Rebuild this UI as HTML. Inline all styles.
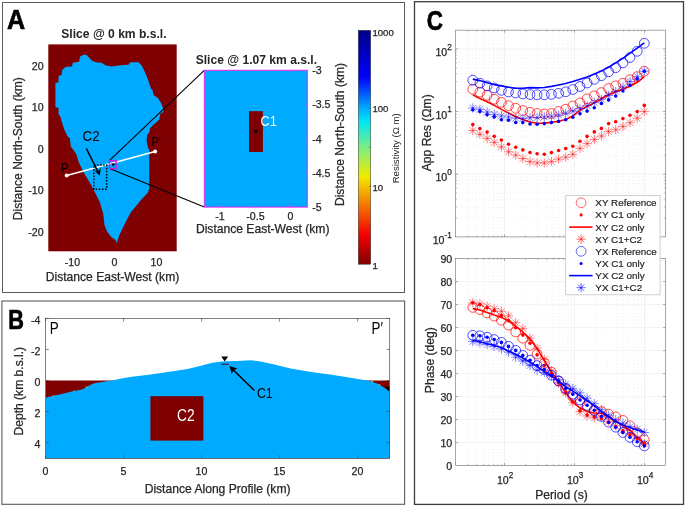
<!DOCTYPE html>
<html lang="en"><head><meta charset="utf-8"><title>Figure</title>
<style>
html,body{margin:0;padding:0;background:#fff;}
body{width:685px;height:506px;overflow:hidden;}
svg{display:block;}
text{font-family:"Liberation Sans",sans-serif;fill:#262626;}
.t{font-size:10.6px;stroke:#262626;stroke-width:0.25px;}
.l{font-size:12.1px;stroke:#262626;stroke-width:0.25px;}
.b{font-weight:bold;font-size:12.1px;}
.p{font-weight:bold;fill:#000;font-size:26.5px;stroke:#000;stroke-width:0.7px;stroke-linejoin:round;}
.an{fill:#000;font-size:15px;}
.w{fill:#fff;font-size:14.5px;}
.lg{font-size:9.9px;stroke:#262626;stroke-width:0.2px;}
.e{font-size:8.2px;}
</style></head><body>
<svg width="685" height="506" viewBox="0 0 685 506">
<rect width="685" height="506" fill="#fff"/>

<rect x="2.5" y="2.5" width="402" height="290" fill="none" stroke="#5a5a5a" stroke-width="1"/>
<rect x="1.9" y="301" width="402.7" height="203.3" fill="none" stroke="#5a5a5a" stroke-width="1.1"/>
<rect x="414.5" y="1.7" width="269" height="502.7" fill="none" stroke="#3c3c3c" stroke-width="1.3"/>
<text class="p" style="font-size:27.6px" x="6.9" y="29.3" textLength="18.2" lengthAdjust="spacingAndGlyphs">A</text>
<text class="p" style="font-size:27.8px" x="8.3" y="328.7" textLength="15.7" lengthAdjust="spacingAndGlyphs">B</text>
<text class="p" style="font-size:28.3px" x="426.8" y="29.5" textLength="16.2" lengthAdjust="spacingAndGlyphs">C</text>
<rect x="48.3" y="44.4" width="128.4" height="206.9" fill="#7f0000"/>
<polygon fill="#00aaff" points="84.2,54.5 87.3,55.5 91.4,60.3 95.5,62.3 101.7,62.7 105.8,65.4 112,66.4 118.1,65.4 128.4,64.8 130.5,62.3 138.7,62.3 141.8,65.8 144.9,72 147.9,79.2 151,88.4 152.5,90 153.7,95.3 157.8,97.7 161,103 162.9,107.8 163.5,111.9 160.2,113.7 159.4,119.6 156.1,122.6 153.1,125 149.9,128.5 149.5,132.1 147.2,135 146.6,141 147.8,146.9 149.3,150 149.3,188 148,192.5 141.2,199.8 136.5,205.5 130.7,212.5 127,219.5 124.3,225 119.3,235.3 117.5,241 116.6,243.5 116.2,241 114.9,239.6 111,236.8 107,231.5 104.5,225 103.2,213.5 99.6,201.5 91.4,185.5 84.2,173.2 79.1,162.9 76,153.6 70.8,146.4 69.8,138.2 67.8,136.7 64.7,130.6 62.6,124.4 60.6,117.2 58.5,114.1 58.5,108 55.4,106.9 55.4,82.9 58.5,82.3 58.5,76.1 61.6,75.1 62.2,69.9 65.7,66.8 71.9,66.4 72.9,62.7 79.1,61.7 80.1,56.6"/>
<text class="b" x="61.3" y="38.2">Slice @ 0 km b.s.l.</text>
<text class="t" x="43.6" y="69.8" text-anchor="end">20</text>
<text class="t" x="43.6" y="111.3" text-anchor="end">10</text>
<text class="t" x="43.6" y="152.79999999999998" text-anchor="end">0</text>
<text class="t" x="43.6" y="194.29999999999998" text-anchor="end">-10</text>
<text class="t" x="43.6" y="235.79999999999998" text-anchor="end">-20</text>
<text class="t" x="72.4" y="266.4" text-anchor="middle">-10</text>
<text class="t" x="114.5" y="266.4" text-anchor="middle">0</text>
<text class="t" x="156.5" y="266.4" text-anchor="middle">10</text>
<text class="l" x="112.5" y="280.8" text-anchor="middle">Distance East-West (km)</text>
<text class="l" transform="translate(21.5,148.7) rotate(-90)" text-anchor="middle">Distance North-South (km)</text>
<path d="M109.6 160.4 L204.3 70.3 M110.2 168.8 L204.3 207.1" stroke="#000" stroke-width="1.1" fill="none"/>
<path d="M66.7 175.6 L155.1 151.6" stroke="#fff" stroke-width="1.6"/>
<circle cx="66.7" cy="175.6" r="2" fill="#fff"/><circle cx="155.1" cy="151.6" r="2" fill="#fff"/>
<rect x="93.9" y="165" width="12.8" height="24.2" fill="none" stroke="#000" stroke-width="1.5" stroke-dasharray="1.5 1.6"/>
<rect x="109.5" y="160.7" width="6.6" height="7.9" fill="none" stroke="#e010e0" stroke-width="1.4"/>
<path d="M111.2 163.6 h4 l-2 3.2z" fill="#000"/>
<path d="M86.3 148.3 L98 171.8" stroke="#000" stroke-width="1.5" fill="none"/>
<path d="M99.8 175.8 L94.3 170.4 L98 171.4 L100.8 167.6z" fill="#000"/>
<text class="an" style="font-size:14.8px" transform="translate(82.6,140.9) scale(0.9,1)">C2</text>
<text class="an" style="font-size:13.3px" transform="translate(61.3,171.6) scale(0.8,1)">P</text>
<text class="an" style="font-size:13.3px" transform="translate(151.5,145.8) scale(0.8,1)">P′</text>
<rect x="204.3" y="70.3" width="103" height="136.8" fill="#00aaff" stroke="#f020f0" stroke-width="1"/>
<path d="M219.9 70.3v2M255.4 70.3v2M290.5 70.3v2M219.9 207.1v-2M255.4 207.1v-2M290.5 207.1v-2M204.3 104.6h2M204.3 138.8h2M204.3 173h2M307.3 104.6h-2M307.3 138.8h-2M307.3 173h-2" stroke="#e040e8" stroke-width="0.8" fill="none"/>
<rect x="249" y="111.2" width="13.9" height="40.8" fill="#7f0000"/>
<path d="M253.5 130.1 h4.8 l-2.4 3.6z" fill="#000"/>
<text class="w" transform="translate(260.6,126.2) scale(0.88,1)">C1</text>
<text class="b" x="195.7" y="63.5">Slice @ 1.07 km a.s.l.</text>
<text class="t" x="312.2" y="74.10000000000001">-3</text>
<text class="t" x="312.2" y="108.3">-3.5</text>
<text class="t" x="312.2" y="142.5">-4</text>
<text class="t" x="312.2" y="176.7">-4.5</text>
<text class="t" x="312.2" y="210.89999999999998">-5</text>
<text class="t" x="219.9" y="219.8" text-anchor="middle">-1</text>
<text class="t" x="255.4" y="219.8" text-anchor="middle">-0.5</text>
<text class="t" x="290.5" y="219.8" text-anchor="middle">0</text>
<text class="l" x="262.7" y="233" text-anchor="middle">Distance East-West (km)</text>
<text class="l" transform="translate(344.3,134.5) rotate(-90)" text-anchor="middle">Distance North-South (km)</text>
<defs><linearGradient id="jet" x1="0" y1="0" x2="0" y2="1">
<stop offset="0" stop-color="#000088"/>
<stop offset="0.2" stop-color="#0000fa"/>
<stop offset="0.333" stop-color="#00aaff"/>
<stop offset="0.39" stop-color="#00e6f5"/>
<stop offset="0.5" stop-color="#7aee84"/>
<stop offset="0.625" stop-color="#f2ea00"/>
<stop offset="0.875" stop-color="#f50000"/>
<stop offset="1" stop-color="#7f0000"/>
</linearGradient></defs>
<rect x="358.3" y="30.3" width="12.4" height="233.9" fill="url(#jet)" stroke="#303030" stroke-width="0.5"/>
<path d="M370.7 69.3h-1.6M370.7 108.3h-1.6M370.7 147.3h-1.6M370.7 186.3h-1.6M370.7 225.2h-1.6" stroke="#303030" stroke-width="0.6" fill="none"/>
<text class="t" style="font-size:9.6px" x="372.4" y="36.3">1000</text>
<text class="t" style="font-size:9.6px" x="372.4" y="112.10000000000001">100</text>
<text class="t" style="font-size:9.6px" x="372.4" y="191.0">10</text>
<text class="t" style="font-size:9.6px" x="372.4" y="268.59999999999997">1</text>
<text style="font-size:9.6px" transform="translate(399.2,148.3) rotate(-90)" text-anchor="middle">Resistivity (Ω m)</text>
<clipPath id="cb"><rect x="45.6" y="318.4" width="344.09999999999997" height="140.0"/></clipPath>
<g clip-path="url(#cb)">
<rect x="45.6" y="380.5" width="344.09999999999997" height="77.89999999999998" fill="#7f0000"/>
<polygon fill="#00aaff" points="45.6,397.8 53.1,395.8 59.7,394.5 67.6,392.5 74.2,391 82,389.6 86,387.3 91.2,384.4 95.2,383.1 100.4,382.3 108.3,380.9 113.6,380.3 121.5,378.6 130,377 150.6,374.4 171.1,371.5 187.6,368.9 202,365.4 212.2,362.7 224.6,361.3 236.9,360.9 251.3,360.2 261.6,361.7 270,363.5 290.6,368.5 311.1,372.1 331.7,374.8 352.2,378.1 368.7,380.8 376,383 382,386.3 389.7,391.5 389.7,458.4 45.6,458.4"/>
<path d="M52.6 395.4h1.4v1h-1.4z" fill="#f0a020"/><path d="M73.4 390.6h1.4v1h-1.4z" fill="#60e090"/><path d="M85.8 386.4h1.4v1.2h-1.4z" fill="#d0e040"/><path d="M371.5 381h1.6v1h-1.6z" fill="#c0e040"/><path d="M378.6 384.2h1.6v1h-1.6z" fill="#e0d030"/>
<rect x="150.4" y="396.2" width="53" height="44.4" fill="#7f0000"/>
<rect x="221.4" y="363.7" width="7.6" height="1.1" fill="#551038"/>
<path d="M221.3 356.6 h6.8 l-3.4 4.8z" fill="#000"/>
<path d="M385.2 386.4 h6.8 l-3.4 4.8z" fill="#000"/>
</g>
<rect x="45.6" y="318.4" width="344.09999999999997" height="140.0" fill="none" stroke="#4d4d4d" stroke-width="0.7"/>
<path d="M45.6 458.4 v-3.2 M45.6 318.4 v3.2 M123.6 458.4 v-3.2 M123.6 318.4 v3.2 M201.6 458.4 v-3.2 M201.6 318.4 v3.2 M279.6 458.4 v-3.2 M279.6 318.4 v3.2 M357.6 458.4 v-3.2 M357.6 318.4 v3.2 M45.6 318.4 h3.2 M389.7 318.4 h-3.2 M45.6 349.4 h3.2 M389.7 349.4 h-3.2 M45.6 380.5 h3.2 M389.7 380.5 h-3.2 M45.6 411.5 h3.2 M389.7 411.5 h-3.2 M45.6 442.6 h3.2 M389.7 442.6 h-3.2" stroke="#4d4d4d" stroke-width="0.7" fill="none"/>
<text class="t" x="40.4" y="323.9" text-anchor="end">-4</text>
<text class="t" x="40.4" y="354.9" text-anchor="end">-2</text>
<text class="t" x="40.4" y="386.0" text-anchor="end">0</text>
<text class="t" x="40.4" y="417.0" text-anchor="end">2</text>
<text class="t" x="40.4" y="448.1" text-anchor="end">4</text>
<text class="t" x="45.4" y="475.2" text-anchor="middle">0</text>
<text class="t" x="123.4" y="475.2" text-anchor="middle">5</text>
<text class="t" x="201.4" y="475.2" text-anchor="middle">10</text>
<text class="t" x="279.4" y="475.2" text-anchor="middle">15</text>
<text class="t" x="357.4" y="475.2" text-anchor="middle">20</text>
<text class="l" x="217.6" y="493" text-anchor="middle">Distance Along Profile (km)</text>
<text class="l" transform="translate(23.3,391.2) rotate(-90)" text-anchor="middle">Depth (km b.s.l.)</text>
<text class="an" style="font-size:16px" transform="translate(49.7,333.5) scale(0.84,1)">P</text>
<text class="an" style="font-size:16px" transform="translate(371.5,333.5) scale(0.84,1)">P′</text>
<text class="w" style="font-size:16.6px" transform="translate(177.1,420.8) scale(0.83,1)">C2</text>
<text class="an" style="font-size:15.5px" transform="translate(256.9,398.2) scale(0.8,1)">C1</text>
<path d="M254.4 390.5 L232.6 369.2" stroke="#000" stroke-width="1.6" fill="none"/>
<path d="M229.4 366.1 L237.2 368.4 L233.6 370.2 L231.8 373.8z" fill="#000"/>
<rect x="455.6" y="30.2" width="210.0" height="206.70000000000002" fill="#fff"/>
<path d="M467.9 30.2 V236.9 M476.7 30.2 V236.9 M483.5 30.2 V236.9 M489.0 30.2 V236.9 M493.7 30.2 V236.9 M497.7 30.2 V236.9 M501.3 30.2 V236.9 M525.6 30.2 V236.9 M537.9 30.2 V236.9 M546.7 30.2 V236.9 M553.5 30.2 V236.9 M559.0 30.2 V236.9 M563.7 30.2 V236.9 M567.7 30.2 V236.9 M571.3 30.2 V236.9 M595.6 30.2 V236.9 M607.9 30.2 V236.9 M616.7 30.2 V236.9 M623.5 30.2 V236.9 M629.0 30.2 V236.9 M633.7 30.2 V236.9 M637.7 30.2 V236.9 M641.3 30.2 V236.9 M455.6 218.0 H665.6 M455.6 207.0 H665.6 M455.6 199.2 H665.6 M455.6 193.1 H665.6 M455.6 188.1 H665.6 M455.6 183.9 H665.6 M455.6 180.3 H665.6 M455.6 177.1 H665.6 M455.6 155.4 H665.6 M455.6 144.3 H665.6 M455.6 136.5 H665.6 M455.6 130.4 H665.6 M455.6 125.5 H665.6 M455.6 121.3 H665.6 M455.6 117.6 H665.6 M455.6 114.4 H665.6 M455.6 92.7 H665.6 M455.6 81.7 H665.6 M455.6 73.8 H665.6 M455.6 67.8 H665.6 M455.6 62.8 H665.6 M455.6 58.6 H665.6 M455.6 55.0 H665.6 M455.6 51.8 H665.6" stroke="#d4d4d4" stroke-width="0.6" stroke-dasharray="0.6 2.8" fill="none"/>
<path d="M504.5 30.2 V236.9 M574.5 30.2 V236.9 M644.5 30.2 V236.9 M455.6 48.9 H665.6 M455.6 111.6 H665.6 M455.6 174.2 H665.6" stroke="#eeeeee" stroke-width="0.8" fill="none"/>
<rect x="455.6" y="258.6" width="210.0" height="206.89999999999998" fill="#fff"/>
<path d="M467.9 258.6 V465.5 M476.7 258.6 V465.5 M483.5 258.6 V465.5 M489.0 258.6 V465.5 M493.7 258.6 V465.5 M497.7 258.6 V465.5 M501.3 258.6 V465.5 M525.6 258.6 V465.5 M537.9 258.6 V465.5 M546.7 258.6 V465.5 M553.5 258.6 V465.5 M559.0 258.6 V465.5 M563.7 258.6 V465.5 M567.7 258.6 V465.5 M571.3 258.6 V465.5 M595.6 258.6 V465.5 M607.9 258.6 V465.5 M616.7 258.6 V465.5 M623.5 258.6 V465.5 M629.0 258.6 V465.5 M633.7 258.6 V465.5 M637.7 258.6 V465.5 M641.3 258.6 V465.5" stroke="#d4d4d4" stroke-width="0.6" stroke-dasharray="0.6 2.8" fill="none"/>
<path d="M504.5 258.6 V465.5 M574.5 258.6 V465.5 M644.5 258.6 V465.5 M455.6 281.6 H665.6 M455.6 304.6 H665.6 M455.6 327.6 H665.6 M455.6 350.6 H665.6 M455.6 373.6 H665.6 M455.6 396.6 H665.6 M455.6 419.6 H665.6 M455.6 442.6 H665.6" stroke="#eeeeee" stroke-width="0.8" fill="none"/>
<g fill="none" stroke="#ff0000" stroke-width="0.7"><circle cx="472.8" cy="89.2" r="4.9"/><circle cx="479.9" cy="92.1" r="4.9"/><circle cx="487.1" cy="95.3" r="4.9"/><circle cx="494.2" cy="99.2" r="4.9"/><circle cx="501.4" cy="102.4" r="4.9"/><circle cx="508.5" cy="105.7" r="4.9"/><circle cx="515.7" cy="108.3" r="4.9"/><circle cx="522.8" cy="110.5" r="4.9"/><circle cx="530.0" cy="112.3" r="4.9"/><circle cx="537.1" cy="113.5" r="4.9"/><circle cx="544.3" cy="113.9" r="4.9"/><circle cx="551.4" cy="113.5" r="4.9"/><circle cx="558.6" cy="111.5" r="4.9"/><circle cx="565.7" cy="109.2" r="4.9"/><circle cx="572.8" cy="106.0" r="4.9"/><circle cx="580.0" cy="102.9" r="4.9"/><circle cx="587.1" cy="98.8" r="4.9"/><circle cx="594.3" cy="95.8" r="4.9"/><circle cx="601.4" cy="92.6" r="4.9"/><circle cx="608.6" cy="88.5" r="4.9"/><circle cx="615.7" cy="85.8" r="4.9"/><circle cx="622.9" cy="83.3" r="4.9"/><circle cx="630.0" cy="79.8" r="4.9"/><circle cx="637.2" cy="76.6" r="4.9"/><circle cx="644.3" cy="71.2" r="4.9"/></g>
<g fill="#ff0000"><circle cx="472.8" cy="124.6" r="1.8"/><circle cx="479.9" cy="128.5" r="1.8"/><circle cx="487.1" cy="132.1" r="1.8"/><circle cx="494.2" cy="136.2" r="1.8"/><circle cx="501.4" cy="140.1" r="1.8"/><circle cx="508.5" cy="144.2" r="1.8"/><circle cx="515.7" cy="147.3" r="1.8"/><circle cx="522.8" cy="149.9" r="1.8"/><circle cx="530.0" cy="152.5" r="1.8"/><circle cx="537.1" cy="153.8" r="1.8"/><circle cx="544.3" cy="154.3" r="1.8"/><circle cx="551.4" cy="152.6" r="1.8"/><circle cx="558.6" cy="150.5" r="1.8"/><circle cx="565.7" cy="148.5" r="1.8"/><circle cx="572.8" cy="146.3" r="1.8"/><circle cx="580.0" cy="141.3" r="1.8"/><circle cx="587.1" cy="136.4" r="1.8"/><circle cx="594.3" cy="131.9" r="1.8"/><circle cx="601.4" cy="128.4" r="1.8"/><circle cx="608.6" cy="123.6" r="1.8"/><circle cx="615.7" cy="121.8" r="1.8"/><circle cx="622.9" cy="118.6" r="1.8"/><circle cx="630.0" cy="115.2" r="1.8"/><circle cx="637.2" cy="111.6" r="1.8"/><circle cx="644.3" cy="105.4" r="1.8"/></g>
<polyline fill="none" stroke="#ff0000" stroke-width="1.6" stroke-linejoin="round" points="472.8,94.8 479.9,98.6 487.1,101.8 494.2,105.4 501.4,109.4 508.5,113.1 515.7,116.4 522.8,119.6 530.0,122.0 537.1,123.2 544.3,123.2 551.4,122.4 558.6,121.2 565.7,119.5 572.8,116.0 580.0,110.3 587.1,106.5 594.3,102.8 601.4,99.0 608.6,94.8 615.7,92.0 622.9,89.2 630.0,86.3 637.2,82.3 644.3,76.6"/>
<path fill="none" stroke="#ff0000" stroke-width="0.5" d="M468.2 130.5h9.2M472.8 125.9v9.2M469.5 127.2l6.5 6.5M469.5 133.8l6.5 -6.5M475.3 134.3h9.2M479.9 129.7v9.2M476.7 131.0l6.5 6.5M476.7 137.6l6.5 -6.5M482.5 138.4h9.2M487.1 133.8v9.2M483.8 135.1l6.5 6.5M483.8 141.7l6.5 -6.5M489.6 142.4h9.2M494.2 137.8v9.2M491.0 139.1l6.5 6.5M491.0 145.7l6.5 -6.5M496.8 147.0h9.2M501.4 142.4v9.2M498.1 143.7l6.5 6.5M498.1 150.3l6.5 -6.5M503.9 151.8h9.2M508.5 147.2v9.2M505.3 148.5l6.5 6.5M505.3 155.1l6.5 -6.5M511.1 155.1h9.2M515.7 150.5v9.2M512.4 151.8l6.5 6.5M512.4 158.4l6.5 -6.5M518.2 158.6h9.2M522.8 154.0v9.2M519.6 155.3l6.5 6.5M519.6 161.9l6.5 -6.5M525.4 161.6h9.2M530.0 157.0v9.2M526.7 158.3l6.5 6.5M526.7 164.9l6.5 -6.5M532.5 162.9h9.2M537.1 158.3v9.2M533.9 159.6l6.5 6.5M533.9 166.2l6.5 -6.5M539.7 162.9h9.2M544.3 158.3v9.2M541.0 159.6l6.5 6.5M541.0 166.2l6.5 -6.5M546.8 161.6h9.2M551.4 157.0v9.2M548.2 158.3l6.5 6.5M548.2 164.9l6.5 -6.5M554.0 159.1h9.2M558.6 154.5v9.2M555.3 155.8l6.5 6.5M555.3 162.4l6.5 -6.5M561.1 157.2h9.2M565.7 152.6v9.2M562.4 153.9l6.5 6.5M562.4 160.5l6.5 -6.5M568.2 154.3h9.2M572.8 149.7v9.2M569.6 151.0l6.5 6.5M569.6 157.6l6.5 -6.5M575.4 148.4h9.2M580.0 143.8v9.2M576.7 145.1l6.5 6.5M576.7 151.7l6.5 -6.5M582.5 143.6h9.2M587.1 139.0v9.2M583.9 140.3l6.5 6.5M583.9 146.9l6.5 -6.5M589.7 139.6h9.2M594.3 135.0v9.2M591.0 136.3l6.5 6.5M591.0 142.9l6.5 -6.5M596.8 136.0h9.2M601.4 131.4v9.2M598.2 132.7l6.5 6.5M598.2 139.3l6.5 -6.5M604.0 131.6h9.2M608.6 127.0v9.2M605.3 128.3l6.5 6.5M605.3 134.9l6.5 -6.5M611.1 129.8h9.2M615.7 125.2v9.2M612.5 126.5l6.5 6.5M612.5 133.1l6.5 -6.5M618.3 126.6h9.2M622.9 122.0v9.2M619.6 123.3l6.5 6.5M619.6 129.9l6.5 -6.5M625.4 122.7h9.2M630.0 118.1v9.2M626.8 119.4l6.5 6.5M626.8 126.0l6.5 -6.5M632.6 118.2h9.2M637.2 113.6v9.2M633.9 114.9l6.5 6.5M633.9 121.5l6.5 -6.5M639.7 111.6h9.2M644.3 107.0v9.2M641.1 108.3l6.5 6.5M641.1 114.9l6.5 -6.5"/>
<g fill="none" stroke="#0000ff" stroke-width="0.7"><circle cx="472.8" cy="80.2" r="4.9"/><circle cx="479.9" cy="83.2" r="4.9"/><circle cx="487.1" cy="85.9" r="4.9"/><circle cx="494.2" cy="88.0" r="4.9"/><circle cx="501.4" cy="90.3" r="4.9"/><circle cx="508.5" cy="91.9" r="4.9"/><circle cx="515.7" cy="93.0" r="4.9"/><circle cx="522.8" cy="93.9" r="4.9"/><circle cx="530.0" cy="94.5" r="4.9"/><circle cx="537.1" cy="94.8" r="4.9"/><circle cx="544.3" cy="94.8" r="4.9"/><circle cx="551.4" cy="94.3" r="4.9"/><circle cx="558.6" cy="93.3" r="4.9"/><circle cx="565.7" cy="91.8" r="4.9"/><circle cx="572.8" cy="89.5" r="4.9"/><circle cx="580.0" cy="86.5" r="4.9"/><circle cx="587.1" cy="83.0" r="4.9"/><circle cx="594.3" cy="79.3" r="4.9"/><circle cx="601.4" cy="75.7" r="4.9"/><circle cx="608.6" cy="71.8" r="4.9"/><circle cx="615.7" cy="67.7" r="4.9"/><circle cx="622.9" cy="62.9" r="4.9"/><circle cx="630.0" cy="57.5" r="4.9"/><circle cx="637.2" cy="51.3" r="4.9"/><circle cx="644.3" cy="43.3" r="4.9"/></g>
<g fill="#0000ff"><circle cx="472.8" cy="109.7" r="1.8"/><circle cx="479.9" cy="111.4" r="1.8"/><circle cx="487.1" cy="114.7" r="1.8"/><circle cx="494.2" cy="116.9" r="1.8"/><circle cx="501.4" cy="119.7" r="1.8"/><circle cx="508.5" cy="120.3" r="1.8"/><circle cx="515.7" cy="122.5" r="1.8"/><circle cx="522.8" cy="122.6" r="1.8"/><circle cx="530.0" cy="124.0" r="1.8"/><circle cx="537.1" cy="124.3" r="1.8"/><circle cx="544.3" cy="123.6" r="1.8"/><circle cx="551.4" cy="122.6" r="1.8"/><circle cx="558.6" cy="121.4" r="1.8"/><circle cx="565.7" cy="119.7" r="1.8"/><circle cx="572.8" cy="117.3" r="1.8"/><circle cx="580.0" cy="113.8" r="1.8"/><circle cx="587.1" cy="111.1" r="1.8"/><circle cx="594.3" cy="107.8" r="1.8"/><circle cx="601.4" cy="103.4" r="1.8"/><circle cx="608.6" cy="99.9" r="1.8"/><circle cx="615.7" cy="96.0" r="1.8"/><circle cx="622.9" cy="91.0" r="1.8"/><circle cx="630.0" cy="85.4" r="1.8"/><circle cx="637.2" cy="78.9" r="1.8"/><circle cx="644.3" cy="71.2" r="1.8"/></g>
<polyline fill="none" stroke="#0000ff" stroke-width="1.6" stroke-linejoin="round" points="472.8,79.1 479.9,80.6 487.1,82.7 494.2,84.6 501.4,85.9 508.5,87.2 515.7,88.2 522.8,88.2 530.0,87.6 537.1,87.9 544.3,87.5 551.4,86.4 558.6,85.0 565.7,83.5 572.8,81.5 580.0,79.2 587.1,77.0 594.3,74.0 601.4,70.9 608.6,67.3 615.7,62.9 622.9,58.4 630.0,53.1 637.2,48.1 644.3,42.8"/>
<path fill="none" stroke="#0000ff" stroke-width="0.5" d="M468.2 108.0h9.2M472.8 103.4v9.2M469.5 104.7l6.5 6.5M469.5 111.3l6.5 -6.5M475.3 109.4h9.2M479.9 104.8v9.2M476.7 106.1l6.5 6.5M476.7 112.7l6.5 -6.5M482.5 112.1h9.2M487.1 107.5v9.2M483.8 108.8l6.5 6.5M483.8 115.4l6.5 -6.5M489.6 114.3h9.2M494.2 109.7v9.2M491.0 111.0l6.5 6.5M491.0 117.6l6.5 -6.5M496.8 115.9h9.2M501.4 111.3v9.2M498.1 112.6l6.5 6.5M498.1 119.2l6.5 -6.5M503.9 117.0h9.2M508.5 112.4v9.2M505.3 113.7l6.5 6.5M505.3 120.3l6.5 -6.5M511.1 118.2h9.2M515.7 113.6v9.2M512.4 114.9l6.5 6.5M512.4 121.5l6.5 -6.5M518.2 118.6h9.2M522.8 114.0v9.2M519.6 115.3l6.5 6.5M519.6 121.9l6.5 -6.5M525.4 117.9h9.2M530.0 113.3v9.2M526.7 114.6l6.5 6.5M526.7 121.2l6.5 -6.5M532.5 117.5h9.2M537.1 112.9v9.2M533.9 114.2l6.5 6.5M533.9 120.8l6.5 -6.5M539.7 117.0h9.2M544.3 112.4v9.2M541.0 113.7l6.5 6.5M541.0 120.3l6.5 -6.5M546.8 116.3h9.2M551.4 111.7v9.2M548.2 113.0l6.5 6.5M548.2 119.6l6.5 -6.5M554.0 115.0h9.2M558.6 110.4v9.2M555.3 111.7l6.5 6.5M555.3 118.3l6.5 -6.5M561.1 113.2h9.2M565.7 108.6v9.2M562.4 109.9l6.5 6.5M562.4 116.5l6.5 -6.5M568.2 111.1h9.2M572.8 106.5v9.2M569.6 107.8l6.5 6.5M569.6 114.4l6.5 -6.5M575.4 108.6h9.2M580.0 104.0v9.2M576.7 105.3l6.5 6.5M576.7 111.9l6.5 -6.5M582.5 105.8h9.2M587.1 101.2v9.2M583.9 102.5l6.5 6.5M583.9 109.1l6.5 -6.5M589.7 102.7h9.2M594.3 98.1v9.2M591.0 99.4l6.5 6.5M591.0 106.0l6.5 -6.5M596.8 99.3h9.2M601.4 94.7v9.2M598.2 96.0l6.5 6.5M598.2 102.6l6.5 -6.5M604.0 95.5h9.2M608.6 90.9v9.2M605.3 92.2l6.5 6.5M605.3 98.8l6.5 -6.5M611.1 91.5h9.2M615.7 86.9v9.2M612.5 88.2l6.5 6.5M612.5 94.8l6.5 -6.5M618.3 87.0h9.2M622.9 82.4v9.2M619.6 83.7l6.5 6.5M619.6 90.3l6.5 -6.5M625.4 81.5h9.2M630.0 76.9v9.2M626.8 78.2l6.5 6.5M626.8 84.8l6.5 -6.5M632.6 76.6h9.2M637.2 72.0v9.2M633.9 73.3l6.5 6.5M633.9 79.9l6.5 -6.5M639.7 71.2h9.2M644.3 66.6v9.2M641.1 67.9l6.5 6.5M641.1 74.5l6.5 -6.5"/>
<g fill="none" stroke="#ff0000" stroke-width="0.7"><circle cx="472.8" cy="307.4" r="4.9"/><circle cx="479.9" cy="309.6" r="4.9"/><circle cx="487.1" cy="312.9" r="4.9"/><circle cx="494.2" cy="316.1" r="4.9"/><circle cx="501.4" cy="320.2" r="4.9"/><circle cx="508.5" cy="325.1" r="4.9"/><circle cx="515.7" cy="332.0" r="4.9"/><circle cx="522.8" cy="338.2" r="4.9"/><circle cx="530.0" cy="345.3" r="4.9"/><circle cx="537.1" cy="354.0" r="4.9"/><circle cx="544.3" cy="363.2" r="4.9"/><circle cx="551.4" cy="372.2" r="4.9"/><circle cx="558.6" cy="381.0" r="4.9"/><circle cx="565.7" cy="389.5" r="4.9"/><circle cx="572.8" cy="397.0" r="4.9"/><circle cx="580.0" cy="402.5" r="4.9"/><circle cx="587.1" cy="406.5" r="4.9"/><circle cx="594.3" cy="410.5" r="4.9"/><circle cx="601.4" cy="411.6" r="4.9"/><circle cx="608.6" cy="414.2" r="4.9"/><circle cx="615.7" cy="416.9" r="4.9"/><circle cx="622.9" cy="420.4" r="4.9"/><circle cx="630.0" cy="425.8" r="4.9"/><circle cx="637.2" cy="432.9" r="4.9"/><circle cx="644.3" cy="440.0" r="4.9"/></g>
<g fill="#ff0000"><circle cx="472.8" cy="302.8" r="1.8"/><circle cx="479.9" cy="304.6" r="1.8"/><circle cx="487.1" cy="307.7" r="1.8"/><circle cx="494.2" cy="310.5" r="1.8"/><circle cx="501.4" cy="315.4" r="1.8"/><circle cx="508.5" cy="320.6" r="1.8"/><circle cx="515.7" cy="327.7" r="1.8"/><circle cx="522.8" cy="335.1" r="1.8"/><circle cx="530.0" cy="343.2" r="1.8"/><circle cx="537.1" cy="354.9" r="1.8"/><circle cx="544.3" cy="365.6" r="1.8"/><circle cx="551.4" cy="373.6" r="1.8"/><circle cx="558.6" cy="383.0" r="1.8"/><circle cx="565.7" cy="392.0" r="1.8"/><circle cx="572.8" cy="401.8" r="1.8"/><circle cx="580.0" cy="410.7" r="1.8"/><circle cx="587.1" cy="415.1" r="1.8"/><circle cx="594.3" cy="416.9" r="1.8"/><circle cx="601.4" cy="418.7" r="1.8"/><circle cx="608.6" cy="422.2" r="1.8"/><circle cx="615.7" cy="426.7" r="1.8"/><circle cx="622.9" cy="431.1" r="1.8"/><circle cx="630.0" cy="434.7" r="1.8"/><circle cx="637.2" cy="438.2" r="1.8"/><circle cx="644.3" cy="443.2" r="1.8"/></g>
<polyline fill="none" stroke="#ff0000" stroke-width="1.6" stroke-linejoin="round" points="472.8,308.6 479.9,310.0 487.1,312.4 494.2,315.1 501.4,317.4 508.5,321.0 515.7,326.2 522.8,332.0 530.0,339.1 537.1,348.6 544.3,360.5 551.4,371.6 558.6,382.0 565.7,392.9 572.8,401.8 580.0,408.0 587.1,411.6 594.3,413.0 601.4,413.3 608.6,416.9 615.7,421.3 622.9,425.8 630.0,430.2 637.2,437.3 644.3,443.6"/>
<path fill="none" stroke="#ff0000" stroke-width="0.5" d="M468.2 302.8h9.2M472.8 298.2v9.2M469.5 299.5l6.5 6.5M469.5 306.1l6.5 -6.5M475.3 303.9h9.2M479.9 299.3v9.2M476.7 300.6l6.5 6.5M476.7 307.2l6.5 -6.5M482.5 306.2h9.2M487.1 301.6v9.2M483.8 302.9l6.5 6.5M483.8 309.5l6.5 -6.5M489.6 308.7h9.2M494.2 304.1v9.2M491.0 305.4l6.5 6.5M491.0 312.0l6.5 -6.5M496.8 311.3h9.2M501.4 306.7v9.2M498.1 308.0l6.5 6.5M498.1 314.6l6.5 -6.5M503.9 315.8h9.2M508.5 311.2v9.2M505.3 312.5l6.5 6.5M505.3 319.1l6.5 -6.5M511.1 322.7h9.2M515.7 318.1v9.2M512.4 319.4l6.5 6.5M512.4 326.0l6.5 -6.5M518.2 328.7h9.2M522.8 324.1v9.2M519.6 325.4l6.5 6.5M519.6 332.0l6.5 -6.5M525.4 338.0h9.2M530.0 333.4v9.2M526.7 334.7l6.5 6.5M526.7 341.3l6.5 -6.5M532.5 348.2h9.2M537.1 343.6v9.2M533.9 344.9l6.5 6.5M533.9 351.5l6.5 -6.5M539.7 359.3h9.2M544.3 354.7v9.2M541.0 356.0l6.5 6.5M541.0 362.6l6.5 -6.5M546.8 370.9h9.2M551.4 366.3v9.2M548.2 367.6l6.5 6.5M548.2 374.2l6.5 -6.5M554.0 383.1h9.2M558.6 378.5v9.2M555.3 379.8l6.5 6.5M555.3 386.4l6.5 -6.5M561.1 392.9h9.2M565.7 388.3v9.2M562.4 389.6l6.5 6.5M562.4 396.2l6.5 -6.5M568.2 402.7h9.2M572.8 398.1v9.2M569.6 399.4l6.5 6.5M569.6 406.0l6.5 -6.5M575.4 411.6h9.2M580.0 407.0v9.2M576.7 408.3l6.5 6.5M576.7 414.9l6.5 -6.5M582.5 416.0h9.2M587.1 411.4v9.2M583.9 412.7l6.5 6.5M583.9 419.3l6.5 -6.5M589.7 417.8h9.2M594.3 413.2v9.2M591.0 414.5l6.5 6.5M591.0 421.1l6.5 -6.5M596.8 416.9h9.2M601.4 412.3v9.2M598.2 413.6l6.5 6.5M598.2 420.2l6.5 -6.5M604.0 421.3h9.2M608.6 416.7v9.2M605.3 418.0l6.5 6.5M605.3 424.6l6.5 -6.5M611.1 425.8h9.2M615.7 421.2v9.2M612.5 422.5l6.5 6.5M612.5 429.1l6.5 -6.5M618.3 430.2h9.2M622.9 425.6v9.2M619.6 426.9l6.5 6.5M619.6 433.5l6.5 -6.5M625.4 433.8h9.2M630.0 429.2v9.2M626.8 430.5l6.5 6.5M626.8 437.1l6.5 -6.5M632.6 438.2h9.2M637.2 433.6v9.2M633.9 434.9l6.5 6.5M633.9 441.5l6.5 -6.5M639.7 443.6h9.2M644.3 439.0v9.2M641.1 440.3l6.5 6.5M641.1 446.9l6.5 -6.5"/>
<g fill="none" stroke="#0000ff" stroke-width="0.7"><circle cx="472.8" cy="335.3" r="4.9"/><circle cx="479.9" cy="335.8" r="4.9"/><circle cx="487.1" cy="337.2" r="4.9"/><circle cx="494.2" cy="339.6" r="4.9"/><circle cx="501.4" cy="342.4" r="4.9"/><circle cx="508.5" cy="346.4" r="4.9"/><circle cx="515.7" cy="350.4" r="4.9"/><circle cx="522.8" cy="355.4" r="4.9"/><circle cx="530.0" cy="360.2" r="4.9"/><circle cx="537.1" cy="365.6" r="4.9"/><circle cx="544.3" cy="369.5" r="4.9"/><circle cx="551.4" cy="375.2" r="4.9"/><circle cx="558.6" cy="381.0" r="4.9"/><circle cx="565.7" cy="388.4" r="4.9"/><circle cx="572.8" cy="394.3" r="4.9"/><circle cx="580.0" cy="400.0" r="4.9"/><circle cx="587.1" cy="405.3" r="4.9"/><circle cx="594.3" cy="410.3" r="4.9"/><circle cx="601.4" cy="416.5" r="4.9"/><circle cx="608.6" cy="422.2" r="4.9"/><circle cx="615.7" cy="427.2" r="4.9"/><circle cx="622.9" cy="432.5" r="4.9"/><circle cx="630.0" cy="437.3" r="4.9"/><circle cx="637.2" cy="441.8" r="4.9"/><circle cx="644.3" cy="445.9" r="4.9"/></g>
<g fill="#0000ff"><circle cx="472.8" cy="335.3" r="1.8"/><circle cx="479.9" cy="335.8" r="1.8"/><circle cx="487.1" cy="337.2" r="1.8"/><circle cx="494.2" cy="339.6" r="1.8"/><circle cx="501.4" cy="342.4" r="1.8"/><circle cx="508.5" cy="346.4" r="1.8"/><circle cx="515.7" cy="350.4" r="1.8"/><circle cx="522.8" cy="355.4" r="1.8"/><circle cx="530.0" cy="360.2" r="1.8"/><circle cx="537.1" cy="365.6" r="1.8"/><circle cx="544.3" cy="369.5" r="1.8"/><circle cx="551.4" cy="375.2" r="1.8"/><circle cx="558.6" cy="381.0" r="1.8"/><circle cx="565.7" cy="388.4" r="1.8"/><circle cx="572.8" cy="394.3" r="1.8"/><circle cx="580.0" cy="400.0" r="1.8"/><circle cx="587.1" cy="405.3" r="1.8"/><circle cx="594.3" cy="410.3" r="1.8"/><circle cx="601.4" cy="416.5" r="1.8"/><circle cx="608.6" cy="422.2" r="1.8"/><circle cx="615.7" cy="427.2" r="1.8"/><circle cx="622.9" cy="432.5" r="1.8"/><circle cx="630.0" cy="437.3" r="1.8"/><circle cx="637.2" cy="441.8" r="1.8"/><circle cx="644.3" cy="445.9" r="1.8"/></g>
<polyline fill="none" stroke="#0000ff" stroke-width="1.6" stroke-linejoin="round" points="472.8,340.2 479.9,341.8 487.1,343.7 494.2,345.4 501.4,347.7 508.5,351.0 515.7,354.3 522.8,358.0 530.0,362.3 537.1,366.5 544.3,371.6 551.4,376.0 558.6,381.3 565.7,386.7 572.8,391.1 580.0,395.6 587.1,400.5 594.3,405.9 601.4,411.6 608.6,416.5 615.7,421.3 622.9,424.9 630.0,427.6 637.2,429.9 644.3,432.0"/>
<path fill="none" stroke="#0000ff" stroke-width="0.5" d="M468.2 341.6h9.2M472.8 337.0v9.2M469.5 338.3l6.5 6.5M469.5 344.9l6.5 -6.5M475.3 342.8h9.2M479.9 338.2v9.2M476.7 339.5l6.5 6.5M476.7 346.1l6.5 -6.5M482.5 344.5h9.2M487.1 339.9v9.2M483.8 341.2l6.5 6.5M483.8 347.8l6.5 -6.5M489.6 346.5h9.2M494.2 341.9v9.2M491.0 343.2l6.5 6.5M491.0 349.8l6.5 -6.5M496.8 349.0h9.2M501.4 344.4v9.2M498.1 345.7l6.5 6.5M498.1 352.3l6.5 -6.5M503.9 352.2h9.2M508.5 347.6v9.2M505.3 348.9l6.5 6.5M505.3 355.5l6.5 -6.5M511.1 357.2h9.2M515.7 352.6v9.2M512.4 353.9l6.5 6.5M512.4 360.5l6.5 -6.5M518.2 361.1h9.2M522.8 356.5v9.2M519.6 357.8l6.5 6.5M519.6 364.4l6.5 -6.5M525.4 365.6h9.2M530.0 361.0v9.2M526.7 362.3l6.5 6.5M526.7 368.9l6.5 -6.5M532.5 370.0h9.2M537.1 365.4v9.2M533.9 366.7l6.5 6.5M533.9 373.3l6.5 -6.5M539.7 372.5h9.2M544.3 367.9v9.2M541.0 369.2l6.5 6.5M541.0 375.8l6.5 -6.5M546.8 375.7h9.2M551.4 371.1v9.2M548.2 372.4l6.5 6.5M548.2 379.0l6.5 -6.5M554.0 379.6h9.2M558.6 375.0v9.2M555.3 376.3l6.5 6.5M555.3 382.9l6.5 -6.5M561.1 384.0h9.2M565.7 379.4v9.2M562.4 380.7l6.5 6.5M562.4 387.3l6.5 -6.5M568.2 388.4h9.2M572.8 383.8v9.2M569.6 385.1l6.5 6.5M569.6 391.7l6.5 -6.5M575.4 392.9h9.2M580.0 388.3v9.2M576.7 389.6l6.5 6.5M576.7 396.2l6.5 -6.5M582.5 398.2h9.2M587.1 393.6v9.2M583.9 394.9l6.5 6.5M583.9 401.5l6.5 -6.5M589.7 403.6h9.2M594.3 399.0v9.2M591.0 400.3l6.5 6.5M591.0 406.9l6.5 -6.5M596.8 409.8h9.2M601.4 405.2v9.2M598.2 406.5l6.5 6.5M598.2 413.1l6.5 -6.5M604.0 415.1h9.2M608.6 410.5v9.2M605.3 411.8l6.5 6.5M605.3 418.4l6.5 -6.5M611.1 419.6h9.2M615.7 415.0v9.2M612.5 416.3l6.5 6.5M612.5 422.9l6.5 -6.5M618.3 423.1h9.2M622.9 418.5v9.2M619.6 419.8l6.5 6.5M619.6 426.4l6.5 -6.5M625.4 426.7h9.2M630.0 422.1v9.2M626.8 423.4l6.5 6.5M626.8 430.0l6.5 -6.5M632.6 429.3h9.2M637.2 424.7v9.2M633.9 426.0l6.5 6.5M633.9 432.6l6.5 -6.5M639.7 432.5h9.2M644.3 427.9v9.2M641.1 429.2l6.5 6.5M641.1 435.8l6.5 -6.5"/>
<path d="M467.9 30.2v1.2M467.9 236.9v-1.2M476.7 30.2v1.2M476.7 236.9v-1.2M483.5 30.2v1.2M483.5 236.9v-1.2M489.0 30.2v1.2M489.0 236.9v-1.2M493.7 30.2v1.2M493.7 236.9v-1.2M497.7 30.2v1.2M497.7 236.9v-1.2M501.3 30.2v1.2M501.3 236.9v-1.2M504.5 30.2v2.4M504.5 236.9v-2.4M525.6 30.2v1.2M525.6 236.9v-1.2M537.9 30.2v1.2M537.9 236.9v-1.2M546.7 30.2v1.2M546.7 236.9v-1.2M553.5 30.2v1.2M553.5 236.9v-1.2M559.0 30.2v1.2M559.0 236.9v-1.2M563.7 30.2v1.2M563.7 236.9v-1.2M567.7 30.2v1.2M567.7 236.9v-1.2M571.3 30.2v1.2M571.3 236.9v-1.2M574.5 30.2v2.4M574.5 236.9v-2.4M595.6 30.2v1.2M595.6 236.9v-1.2M607.9 30.2v1.2M607.9 236.9v-1.2M616.7 30.2v1.2M616.7 236.9v-1.2M623.5 30.2v1.2M623.5 236.9v-1.2M629.0 30.2v1.2M629.0 236.9v-1.2M633.7 30.2v1.2M633.7 236.9v-1.2M637.7 30.2v1.2M637.7 236.9v-1.2M641.3 30.2v1.2M641.3 236.9v-1.2M644.5 30.2v2.4M644.5 236.9v-2.4M455.6 48.9h2.4M665.6 48.9h-2.4M455.6 111.6h2.4M665.6 111.6h-2.4M455.6 174.2h2.4M665.6 174.2h-2.4M455.6 218.0h1.2M665.6 218.0h-1.2M455.6 207.0h1.2M665.6 207.0h-1.2M455.6 199.2h1.2M665.6 199.2h-1.2M455.6 193.1h1.2M665.6 193.1h-1.2M455.6 188.1h1.2M665.6 188.1h-1.2M455.6 183.9h1.2M665.6 183.9h-1.2M455.6 180.3h1.2M665.6 180.3h-1.2M455.6 177.1h1.2M665.6 177.1h-1.2M455.6 155.4h1.2M665.6 155.4h-1.2M455.6 144.3h1.2M665.6 144.3h-1.2M455.6 136.5h1.2M665.6 136.5h-1.2M455.6 130.4h1.2M665.6 130.4h-1.2M455.6 125.5h1.2M665.6 125.5h-1.2M455.6 121.3h1.2M665.6 121.3h-1.2M455.6 117.6h1.2M665.6 117.6h-1.2M455.6 114.4h1.2M665.6 114.4h-1.2M455.6 92.7h1.2M665.6 92.7h-1.2M455.6 81.7h1.2M665.6 81.7h-1.2M455.6 73.8h1.2M665.6 73.8h-1.2M455.6 67.8h1.2M665.6 67.8h-1.2M455.6 62.8h1.2M665.6 62.8h-1.2M455.6 58.6h1.2M665.6 58.6h-1.2M455.6 55.0h1.2M665.6 55.0h-1.2M455.6 51.8h1.2M665.6 51.8h-1.2" stroke="#707070" stroke-width="0.6" fill="none"/>
<rect x="455.6" y="30.2" width="210.0" height="206.70000000000002" fill="none" stroke="#808080" stroke-width="0.7"/>
<path d="M467.9 258.6v1.2M467.9 465.5v-1.2M476.7 258.6v1.2M476.7 465.5v-1.2M483.5 258.6v1.2M483.5 465.5v-1.2M489.0 258.6v1.2M489.0 465.5v-1.2M493.7 258.6v1.2M493.7 465.5v-1.2M497.7 258.6v1.2M497.7 465.5v-1.2M501.3 258.6v1.2M501.3 465.5v-1.2M504.5 258.6v2.4M504.5 465.5v-2.4M525.6 258.6v1.2M525.6 465.5v-1.2M537.9 258.6v1.2M537.9 465.5v-1.2M546.7 258.6v1.2M546.7 465.5v-1.2M553.5 258.6v1.2M553.5 465.5v-1.2M559.0 258.6v1.2M559.0 465.5v-1.2M563.7 258.6v1.2M563.7 465.5v-1.2M567.7 258.6v1.2M567.7 465.5v-1.2M571.3 258.6v1.2M571.3 465.5v-1.2M574.5 258.6v2.4M574.5 465.5v-2.4M595.6 258.6v1.2M595.6 465.5v-1.2M607.9 258.6v1.2M607.9 465.5v-1.2M616.7 258.6v1.2M616.7 465.5v-1.2M623.5 258.6v1.2M623.5 465.5v-1.2M629.0 258.6v1.2M629.0 465.5v-1.2M633.7 258.6v1.2M633.7 465.5v-1.2M637.7 258.6v1.2M637.7 465.5v-1.2M641.3 258.6v1.2M641.3 465.5v-1.2M644.5 258.6v2.4M644.5 465.5v-2.4M455.6 281.6h2.4M665.6 281.6h-2.4M455.6 304.6h2.4M665.6 304.6h-2.4M455.6 327.6h2.4M665.6 327.6h-2.4M455.6 350.6h2.4M665.6 350.6h-2.4M455.6 373.6h2.4M665.6 373.6h-2.4M455.6 396.6h2.4M665.6 396.6h-2.4M455.6 419.6h2.4M665.6 419.6h-2.4M455.6 442.6h2.4M665.6 442.6h-2.4" stroke="#707070" stroke-width="0.6" fill="none"/>
<rect x="455.6" y="258.6" width="210.0" height="206.89999999999998" fill="none" stroke="#808080" stroke-width="0.7"/>
<text class="t" x="451.8" y="56.0" text-anchor="end">10<tspan class="e" dy="-6.2">2</tspan></text>
<text class="t" x="451.8" y="118.6" text-anchor="end">10<tspan class="e" dy="-6.2">1</tspan></text>
<text class="t" x="451.8" y="181.3" text-anchor="end">10<tspan class="e" dy="-6.2">0</tspan></text>
<text class="t" x="451.8" y="244.0" text-anchor="end">10<tspan class="e" dy="-6.2">-1</tspan></text>
<text class="l" transform="translate(430.6,132.8) rotate(-90)" text-anchor="middle">App Res (Ωm)</text>
<text class="t" x="452.2" y="470.3" text-anchor="end">0</text>
<text class="t" x="452.2" y="447.3" text-anchor="end">10</text>
<text class="t" x="452.2" y="424.3" text-anchor="end">20</text>
<text class="t" x="452.2" y="401.3" text-anchor="end">30</text>
<text class="t" x="452.2" y="378.3" text-anchor="end">40</text>
<text class="t" x="452.2" y="355.3" text-anchor="end">50</text>
<text class="t" x="452.2" y="332.3" text-anchor="end">60</text>
<text class="t" x="452.2" y="309.3" text-anchor="end">70</text>
<text class="t" x="452.2" y="286.3" text-anchor="end">80</text>
<text class="t" x="452.2" y="263.3" text-anchor="end">90</text>
<text class="l" transform="translate(434.1,360.2) rotate(-90)" text-anchor="middle">Phase (deg)</text>
<text class="t" x="505.1" y="483.9" text-anchor="middle">10<tspan class="e" dy="-5.5">2</tspan></text>
<text class="t" x="575.1" y="483.9" text-anchor="middle">10<tspan class="e" dy="-5.5">3</tspan></text>
<text class="t" x="645.1" y="483.9" text-anchor="middle">10<tspan class="e" dy="-5.5">4</tspan></text>
<text class="l" x="561.5" y="498.6" text-anchor="middle">Period (s)</text>
<rect x="565.7" y="195.4" width="94.4" height="99.4" fill="#fff" stroke="#c4c4c4" stroke-width="0.8"/>
<circle cx="581.1" cy="202.8" r="4.9" fill="none" stroke="#ff0000" stroke-width="0.6"/>
<text class="lg" x="595.3" y="206.3">XY Reference</text>
<circle cx="581.1" cy="214.9" r="1.55" fill="#ff0000"/>
<text class="lg" x="595.3" y="218.4">XY C1 only</text>
<path d="M569.2 227.1 H592.6" stroke="#ff0000" stroke-width="1.6"/>
<text class="lg" x="595.3" y="230.6">XY C2 only</text>
<path fill="none" stroke="#ff0000" stroke-width="0.6" d="M576.5 239.2h9.2M581.1 234.6v9.2M577.8 235.9l6.5 6.5M577.8 242.4l6.5 -6.5"/>
<text class="lg" x="595.3" y="242.7">XY C1+C2</text>
<circle cx="581.1" cy="251.3" r="4.9" fill="none" stroke="#0000ff" stroke-width="0.6"/>
<text class="lg" x="595.3" y="254.8">YX Reference</text>
<circle cx="581.1" cy="263.5" r="1.55" fill="#0000ff"/>
<text class="lg" x="595.3" y="267.0">YX C1 only</text>
<path d="M569.2 275.6 H592.6" stroke="#0000ff" stroke-width="1.6"/>
<text class="lg" x="595.3" y="279.1">YX C2 only</text>
<path fill="none" stroke="#0000ff" stroke-width="0.6" d="M576.5 287.7h9.2M581.1 283.1v9.2M577.8 284.5l6.5 6.5M577.8 291.0l6.5 -6.5"/>
<text class="lg" x="595.3" y="291.2">YX C1+C2</text>
</svg></body></html>
